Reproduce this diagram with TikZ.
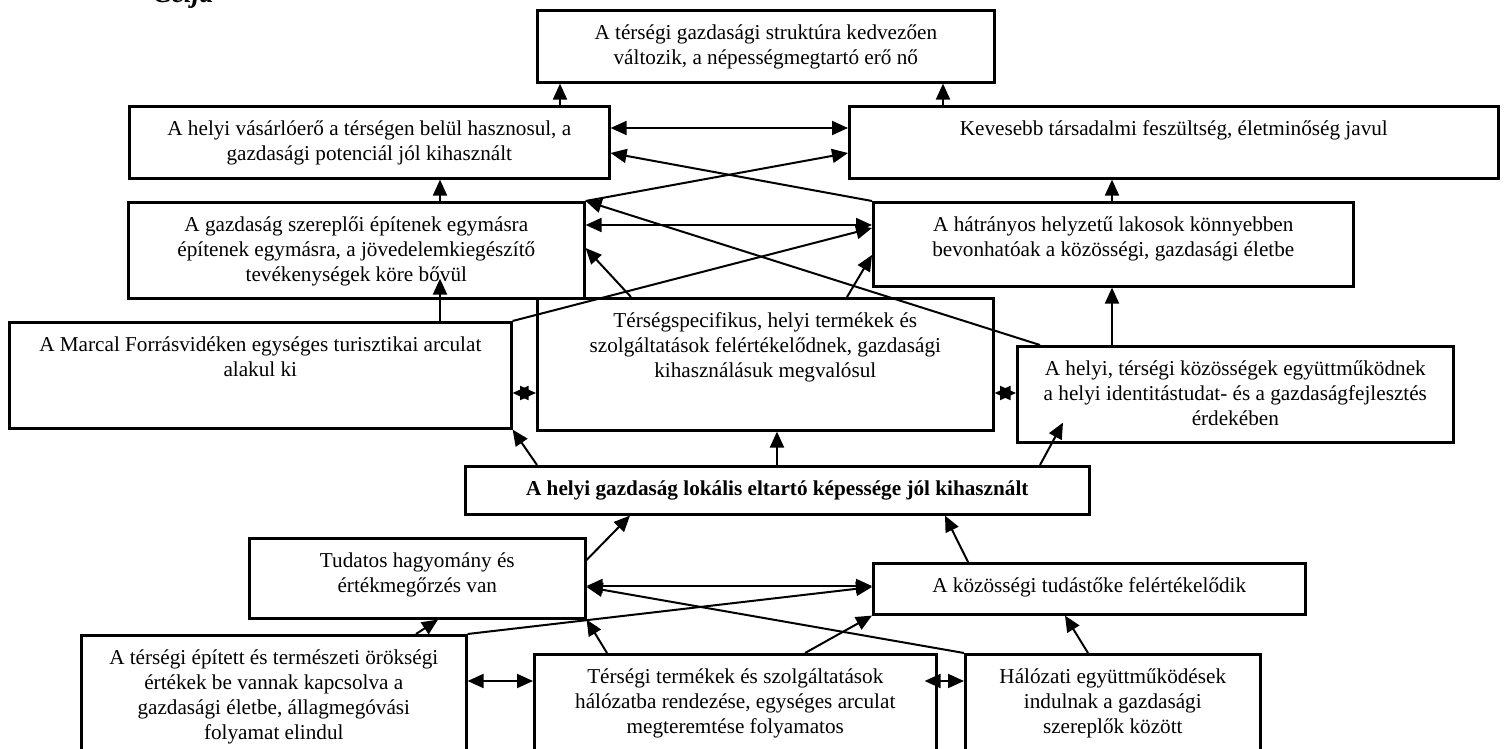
\documentclass[tikz,border=0pt]{standalone}
\usepackage{fontspec}
\setmainfont{Liberation Serif}
\usetikzlibrary{arrows.meta,calc}
\newlength{\unitpx}
\setlength{\unitpx}{0.5pt}
\newcommand{\boxtext}[3]{\parbox[c][#2\unitpx][t]{#1\unitpx}{\centering\vspace{6pt}\strut #3\par}}

\begin{document}
\begin{tikzpicture}[x=0.5pt,y=-0.5pt,>={Triangle[length=8pt,width=7pt]},line width=1pt]
    \tikzstyle{every node}=[inner sep=0pt,font=\fontsize{10.6}{12.5}\selectfont];
    \tikzstyle{box}=[draw,line width=1.3pt,anchor=north west];

    \useasboundingbox (0,0) rectangle (1506,749);

    \node[anchor=base west,font=\fontsize{14}{16}\selectfont\bfseries\itshape] (title) at (152,3) {Célja};

    \node[box] (T) at (536,9) {\boxtext{457}{72}{A térségi gazdasági struktúra kedvezően\\változik, a népességmegtartó erő nő}};
    \node[box] (L1) at (128,105) {\boxtext{480}{72}{A helyi vásárlóerő a térségen belül hasznosul, a\\gazdasági potenciál jól kihasznált}};
    \node[box] (R1) at (848,105) {\boxtext{649}{72}{Kevesebb társadalmi feszültség, életminőség javul}};
    \node[box] (L2) at (127,201) {\boxtext{456}{96}{A gazdaság szereplői építenek egymásra\\építenek egymásra, a jövedelemkiegészítő\\tevékenységek köre bővül}};
    \node[box] (R2) at (872,201) {\boxtext{480}{84}{A hátrányos helyzetű lakosok könnyebben\\bevonhatóak a közösségi, gazdasági életbe}};
    \node[box] (L3) at (8,321) {\boxtext{502}{106}{A Marcal Forrásvidéken egységes turisztikai arculat\\alakul ki}};
    \node[box] (M) at (536,297) {\boxtext{456}{132}{Térségspecifikus, helyi termékek és\\szolgáltatások felértékelődnek, gazdasági\\kihasználásuk megvalósul}};
    \node[box] (R3) at (1016,345) {\boxtext{436}{96}{A helyi, térségi közösségek együttműködnek\\a helyi identitástudat- és a gazdaságfejlesztés\\érdekében}};
    \node[box] (C) at (464,465) {\boxtext{624}{48}{\bfseries A helyi gazdaság lokális eltartó képessége jól kihasznált}};
    \node[box] (TL) at (248,537) {\boxtext{336}{80}{Tudatos hagyomány és\\értékmegőrzés van}};
    \node[box] (TR) at (872,562) {\boxtext{432}{51}{A közösségi tudástőke felértékelődik}};
    \node[box] (B1) at (80,634) {\boxtext{385}{136}{A térségi épített és természeti örökségi\\értékek be vannak kapcsolva a\\gazdasági életbe, állagmegóvási\\folyamat elindul}};
    \node[box] (B2) at (533,653) {\boxtext{402}{117}{Térségi termékek és szolgáltatások\\hálózatba rendezése, egységes arculat\\megteremtése folyamatos}};
    \node[box] (B3) at (964,653) {\boxtext{295}{117}{Hálózati együttműködések\\indulnak a gazdasági\\szereplők között}};

    % felső szintek
    \draw[->] (L1.north -| 560,0) -- (T.south -| 560,0);
    \draw[->] (R1.north -| 943,0) -- (T.south -| 943,0);
    \draw[<->] (L1.east |- 0,128) -- (R1.west |- 0,128);
    \draw[->] (L2.north east) -- (R1.west |- 0,153);
    \draw[->] (R2.north west) -- (L1.east |- 0,153);
    \draw[->] (L2.north -| 440,0) -- (L1.south -| 440,0);
    \draw[->] (R2.north -| 1112,0) -- (R1.south -| 1112,0);
    \draw[<->] (L2.east |- 0,225) -- (R2.west |- 0,225);
    \draw[->] (L3.north east) -- (R2.west |- 0,228);
    \draw[->] (R3.north -| 1040,0) -- (L2.north east);
    \draw[->] (M.north -| 631,0) -- (L2.east |- 0,248);
    \draw[->] (M.north -| 847,0) -- (R2.west |- 0,255);
    \draw[->] (L3.north -| 440,0) -- ($(L2.south -| 440,0)+(0,-21)$);
    \draw[->] (R3.north -| 1112,0) -- (R2.south -| 1112,0);
    \draw[<->] (L3.east |- 0,393) -- (M.west |- 0,393);
    \draw[<->] (M.east |- 0,393) -- (R3.west |- 0,393);

    % középső doboz
    \draw[->] (C.north -| 537,0) -- (L3.south east);
    \draw[->] (C.north -| 777,0) -- (M.south -| 777,0);
    \draw[->] (C.north -| 1040,0) -- ($(R3.south -| 1063,0)+(0,-21)$);

    % alsó szintek
    \draw[->] (TL.east |- 0,560) -- (C.south -| 630,0);
    \draw[->] (TR.north -| 968,0) -- (C.south -| 945,0);
    \draw[<->] (TL.east |- 0,586) -- (TR.west |- 0,586);
    \draw[->] (B3.north west) -- (TL.east |- 0,587);
    \draw[->] (B1.north east) -- (TR.west |- 0,587);
    \draw[->] (B1.north -| 416,0) -- (TL.south -| 438,0);
    \draw[->] (B2.north -| 607,0) -- (TL.south east);
    \draw[->] (B2.north -| 805,0) -- (TR.south west);
    \draw[->] (B3.north -| 1088,0) -- (TR.south -| 1065,0);
    \draw[<->] (B1.east |- 0,681) -- (B2.west |- 0,681);
    \draw[<->] ($(B2.east |- 0,681)+(-13,0)$) -- (B3.west |- 0,681);

\end{tikzpicture}
\end{document}
